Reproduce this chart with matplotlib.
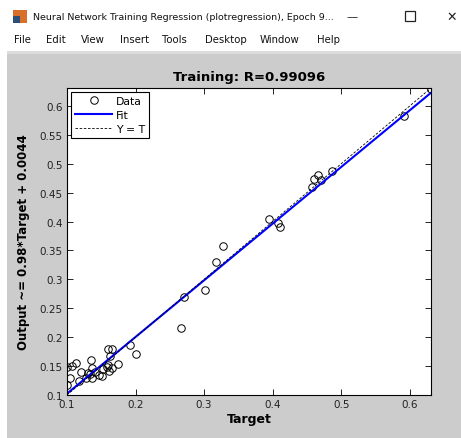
import matplotlib
matplotlib.use("Agg")
import matplotlib.pyplot as plt
from matplotlib.patches import Rectangle
import numpy as np

# ---- data ----
target = [0.100, 0.104, 0.100, 0.107, 0.113, 0.121, 0.127, 0.135, 0.136, 0.133,
          0.136, 0.141, 0.151, 0.152, 0.158, 0.161, 0.165, 0.160, 0.162, 0.160,
          0.165, 0.175, 0.192, 0.201, 0.266, 0.271, 0.302, 0.118, 0.130, 0.147,
          0.317, 0.328, 0.394, 0.408, 0.411, 0.458, 0.460, 0.466, 0.470, 0.486,
          0.591, 0.631]
output = [0.118, 0.130, 0.149, 0.150, 0.155, 0.140, 0.130, 0.160, 0.147, 0.136,
          0.129, 0.140, 0.132, 0.145, 0.149, 0.142, 0.147, 0.152, 0.167, 0.179,
          0.179, 0.153, 0.186, 0.171, 0.216, 0.269, 0.281, 0.124, 0.138, 0.134,
          0.330, 0.358, 0.405, 0.397, 0.390, 0.460, 0.473, 0.480, 0.472, 0.487,
          0.582, 0.630]
fit_slope = 0.98
fit_offset = 0.0044
title_text = "Training: R=0.99096"
xlabel_text = "Target"
ylabel_text = "Output ~= 0.98*Target + 0.0044"
xticks = [0.1, 0.2, 0.3, 0.4, 0.5, 0.6]
yticks = [0.1, 0.15, 0.2, 0.25, 0.3, 0.35, 0.4, 0.45, 0.5, 0.55, 0.6]
lims = (0.1, 0.631)
menu_items = ["File", "Edit", "View", "Insert", "Tools", "Desktop", "Window", "Help"]
menu_x = [14, 46, 81, 120, 162, 205, 260, 317]
window_title = "Neural Network Training Regression (plotregression), Epoch 9..."

W, H = 461, 439
fig = plt.figure(figsize=(W / 100, H / 100), dpi=100)
fig.patch.set_facecolor("white")

def fx(px):
    return px / W

def fy(py):
    return 1 - py / H

# gray figure area
fig.patches.append(Rectangle((fx(7), 0), 1 - fx(7), fy(52), transform=fig.transFigure,
                             facecolor="#cccccc", edgecolor="none", zorder=-10))
fig.patches.append(Rectangle((fx(7), fy(55)), 1 - fx(7), fy(52) - fy(55), transform=fig.transFigure,
                             facecolor="#dcdcdc", edgecolor="none", zorder=-10))

# window title bar
fig.patches.append(Rectangle((fx(13), fy(24)), fx(14), fy(11) - fy(24), transform=fig.transFigure,
                             facecolor="#d9702a", edgecolor="none", zorder=1))
fig.patches.append(Rectangle((fx(13), fy(24)), fx(7), fy(17) - fy(24), transform=fig.transFigure,
                             facecolor="#2a4f7a", edgecolor="none", zorder=1))
fig.text(fx(33), fy(17), window_title, fontsize=6.8, va="center", ha="left",
         family="DejaVu Sans", color="#111111")
fig.text(fx(352), fy(17), "\u2014", fontsize=8, va="center", ha="center", color="#222222")
fig.patches.append(Rectangle((fx(405), fy(22)), fx(10), fy(12) - fy(22), transform=fig.transFigure,
                             facecolor="none", edgecolor="#222222", linewidth=0.9, zorder=1))
fig.text(fx(452), fy(17), "\u2715", fontsize=9, va="center", ha="center", color="#222222")

for label, x in zip(menu_items, menu_x):
    fig.text(fx(x), fy(40), label, fontsize=7.3, va="center", ha="left",
             family="DejaVu Sans", color="#111111")

# axes
ax = fig.add_axes([fx(67), 1 - 396 / H, (431 - 67) / W, (396 - 89) / H])
ax.set_zorder(5)
ax.set_facecolor("white")
xs = np.array(lims)
ax.plot(target, output, linestyle="none", marker="o", markersize=5.4,
        markerfacecolor="none", markeredgecolor="black", markeredgewidth=0.7, label="Data")
ax.plot(xs, fit_slope * xs + fit_offset, color="#0000ff", linewidth=1.5, label="Fit")
ax.plot(xs, xs, color="black", linestyle=(0, (3, 2)), linewidth=0.6, label="Y = T")
ax.set_xlim(lims)
ax.set_ylim(lims)
ax.set_xticks(xticks)
ax.set_yticks(yticks)
ax.set_xticklabels([f"{v:g}" for v in xticks])
ax.set_yticklabels([f"{v:g}" for v in yticks])
ax.tick_params(direction="in", top=True, right=True, labelsize=7.5, length=4, width=0.6,
               labelcolor="#222222", pad=3)
for s in ax.spines.values():
    s.set_linewidth(0.8)
ax.set_title(title_text, fontsize=9.5, fontweight="bold", pad=6)
ax.set_xlabel(xlabel_text, fontsize=9, fontweight="bold", labelpad=2)
ax.set_ylabel(ylabel_text, fontsize=8.5, fontweight="bold", labelpad=7)
leg = ax.legend(loc="upper left", fontsize=7.8, frameon=True, fancybox=False,
                edgecolor="black", framealpha=1, borderaxespad=0.4, handlelength=3.4,
                labelspacing=0.35, borderpad=0.35, handletextpad=0.4, numpoints=1)
leg.get_frame().set_linewidth(0.8)

fig.savefig("out.png", dpi=100, facecolor=fig.get_facecolor())
